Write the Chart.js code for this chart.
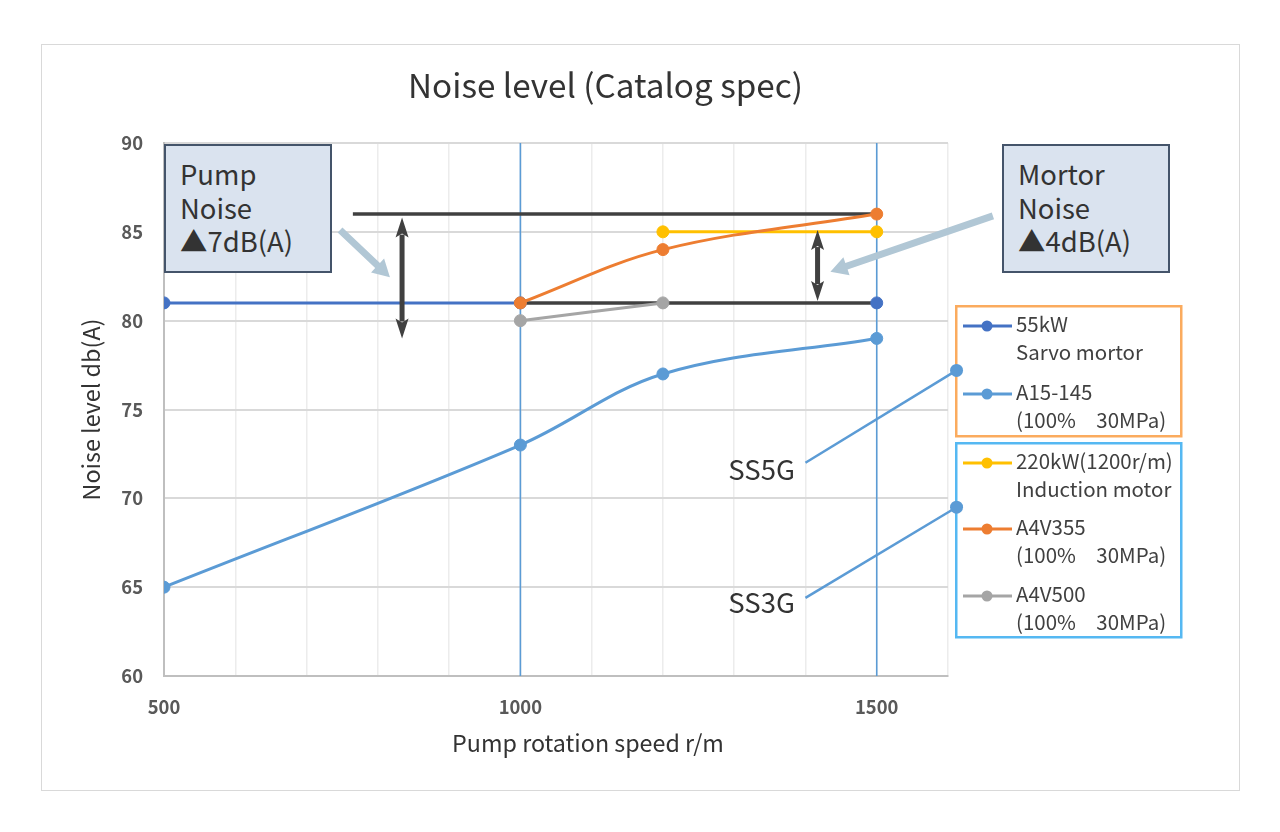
<!DOCTYPE html>
<html lang="en">
<head>
<meta charset="utf-8">
<title>Noise level (Catalog spec)</title>
<script src="https://cdn.jsdelivr.net/npm/chart.js@4.4.1/dist/chart.umd.min.js"></script>
<style>
html,body{margin:0;padding:0;background:#fff;overflow:hidden;}
#wrap{position:relative;width:1280px;height:832px;font-family:"Noto Sans CJK JP","Noto Sans",sans-serif;color:#333;}
#frame{position:absolute;left:41px;top:44px;width:1199px;height:747px;border:1px solid #d9d9d9;box-sizing:border-box;}
#c{position:absolute;left:0;top:0;}
.t{position:absolute;white-space:pre;color:#333;}
.box{position:absolute;box-sizing:border-box;background:#dae3ef;border:2px solid #44546a;width:168px;height:129px;top:144px;}
.lg{color:#404040;}
</style>
</head>
<body>
<div id="wrap">
  <div id="frame"></div>
  <canvas id="c" width="1280" height="832"></canvas>
  <div id="texts"></div>
</div>
<script>
// ---------------- data ----------------
const servoX   = [500, 1000, 1500];
const servoY   = [81, 81, 81];
const a15X     = [500, 1000, 1200, 1500];
const a15Y     = [65, 73, 77, 79];
const inductX  = [1200, 1500];
const inductY  = [85, 85];
const a4v355X  = [1000, 1200, 1500];
const a4v355Y  = [81, 84, 86];
const a4v500X  = [1000, 1200];
const a4v500Y  = [80, 81];

const xTickLabels = [500, 1000, 1500];
const yTickValues = [60, 65, 70, 75, 80, 85, 90];

const seriesLabels = [
  ['55kW', 'Sarvo mortor'],
  ['A15-145', '(100%\u300030MPa)'],
  ['220kW(1200r/m)', 'Induction motor'],
  ['A4V355', '(100%\u300030MPa)'],
  ['A4V500', '(100%\u300030MPa)']
];
const chartTitle  = 'Noise level (Catalog spec)';
const xTitle      = 'Pump rotation speed r/m';
const yTitle      = 'Noise level db(A)';
const pumpNoiseText  = ['Pump', 'Noise', '\u25B27dB(A)'];
const motorNoiseText = ['Mortor', 'Noise', '\u25B24dB(A)'];
const calloutLabels  = ['SS5G', 'SS3G'];

// annotation values (data units)
const refSpeeds   = [1000, 1500];
const topRefLine  = {x0: 765, x1: 1500, y: 86};
const pumpGap     = {x: 834, top: 85.8, bottom: 79.0};
const motorGap    = {x: 1417, top: 85.1, bottom: 81.1};
const pumpPointer = {x0: 747, y0: 85.1, x1: 817, y1: 82.45};
const motorPointer= {x0: 1663, y0: 85.9, x1: 1435, y1: 82.75};
const ss5Callout  = {x0: 1400, y0: 72.0, x1: 1612, y1: 77.2};
const ss3Callout  = {x0: 1400, y0: 64.4, x1: 1612, y1: 69.5};

// ---------------- styles ----------------
const FONT = '"Noto Sans CJK JP", "Noto Sans", sans-serif';
const colors = ['#4472c4', '#5b9bd5', '#ffc000', '#ed7d31', '#a5a5a5'];
const DARK = '#404040';

const mctx = document.createElement('canvas').getContext('2d');
function fitSize(text, target, weight) {
  mctx.font = (weight || 'normal') + ' 100px ' + FONT;
  return 100 * target / mctx.measureText(text).width;
}

function pts(xs, ys) { return xs.map((x, i) => ({x: x, y: ys[i]})); }

function mkDs(i, xs, ys, order, extra) {
  return Object.assign({
    label: seriesLabels[i].join(' '),
    data: pts(xs, ys),
    borderColor: colors[i],
    backgroundColor: colors[i],
    pointBackgroundColor: colors[i],
    pointBorderColor: colors[i],
    pointRadius: 6,
    pointBorderWidth: 1,
    borderWidth: 3,
    tension: 0.35,
    fill: false,
    order: order
  }, extra || {});
}

const datasets = [
  mkDs(3, a4v355X, a4v355Y, 0),
  mkDs(4, a4v500X, a4v500Y, 1),
  mkDs(2, inductX, inductY, 2),
  mkDs(0, servoX, servoY, 3, {
    segment: {
      borderColor: c => c.p0.parsed.x >= 1000 ? DARK : undefined,
      borderWidth: c => c.p0.parsed.x >= 1000 ? 3.5 : undefined
    }
  }),
  mkDs(1, a15X, a15Y, 4)
];

// legend layout (pixels)
const legendBoxes = [
  {x: 956.25, y: 306.25, w: 225, h: 130, color: '#fbab5e'},
  {x: 956.25, y: 443.25, w: 225, h: 194, color: '#55b8f2'}
];
const legendRowY = [325, 393, 462, 528, 595];
const legendLineGap = 28;

// ---------------- drawing helpers ----------------
function doubleArrow(ctx, px, pTop, pBot) {
  const hw = 6.5, hl = 20, sw = 5;
  ctx.fillStyle = DARK;
  ctx.fillRect(px - sw / 2, pTop + hl - 3, sw, (pBot - pTop) - 2 * hl + 6);
  ctx.beginPath();
  ctx.moveTo(px, pTop); ctx.lineTo(px + hw, pTop + hl); ctx.lineTo(px, pTop + hl - 4); ctx.lineTo(px - hw, pTop + hl);
  ctx.closePath(); ctx.fill();
  ctx.beginPath();
  ctx.moveTo(px, pBot); ctx.lineTo(px + hw, pBot - hl); ctx.lineTo(px, pBot - hl + 4); ctx.lineTo(px - hw, pBot - hl);
  ctx.closePath(); ctx.fill();
}

function blockArrow(ctx, x0, y0, x1, y1) {
  const dx = x1 - x0, dy = y1 - y0, L = Math.hypot(dx, dy);
  const ux = dx / L, uy = dy / L, nx = -uy, ny = ux;
  const sw = 7, hw = 9.5, hl = 17;
  const bx = x1 - ux * hl, by = y1 - uy * hl;
  ctx.fillStyle = '#b1c7d5';
  ctx.beginPath();
  ctx.moveTo(x0 + nx * sw / 2, y0 + ny * sw / 2);
  ctx.lineTo(bx + nx * sw / 2, by + ny * sw / 2);
  ctx.lineTo(bx + nx * hw, by + ny * hw);
  ctx.lineTo(x1, y1);
  ctx.lineTo(bx - nx * hw, by - ny * hw);
  ctx.lineTo(bx - nx * sw / 2, by - ny * sw / 2);
  ctx.lineTo(x0 - nx * sw / 2, y0 - ny * sw / 2);
  ctx.closePath(); ctx.fill();
}

const annotations = {
  id: 'annotations',
  beforeDatasetsDraw(chart) {
    const {ctx, chartArea: a, scales: {x, y}} = chart;
    ctx.save();
    ctx.strokeStyle = '#5b9bd5';
    ctx.lineWidth = 1.6;
    refSpeeds.forEach(v => {
      const px = x.getPixelForValue(v);
      ctx.beginPath(); ctx.moveTo(px, a.top); ctx.lineTo(px, a.bottom); ctx.stroke();
    });
    ctx.strokeStyle = DARK;
    ctx.lineWidth = 3.5;
    ctx.beginPath();
    ctx.moveTo(x.getPixelForValue(topRefLine.x0), y.getPixelForValue(topRefLine.y));
    ctx.lineTo(x.getPixelForValue(topRefLine.x1), y.getPixelForValue(topRefLine.y));
    ctx.stroke();
    ctx.restore();
  },
  afterDatasetsDraw(chart) {
    const {ctx, scales: {x, y}} = chart;
    ctx.save();
    [pumpGap, motorGap].forEach(g => doubleArrow(ctx, x.getPixelForValue(g.x), y.getPixelForValue(g.top), y.getPixelForValue(g.bottom)));
    [pumpPointer, motorPointer].forEach(p => blockArrow(ctx, x.getPixelForValue(p.x0), y.getPixelForValue(p.y0), x.getPixelForValue(p.x1), y.getPixelForValue(p.y1)));
    ctx.restore();
  },
  afterDraw(chart) {
    const {ctx, scales: {x, y}} = chart;
    ctx.save();
    ctx.lineWidth = 2.5;
    legendBoxes.forEach(b => { ctx.strokeStyle = b.color; ctx.strokeRect(b.x, b.y, b.w, b.h); });
    legendRowY.forEach((yy, i) => {
      ctx.strokeStyle = colors[i]; ctx.lineWidth = 3;
      ctx.beginPath(); ctx.moveTo(963, yy + 1); ctx.lineTo(1012, yy + 1); ctx.stroke();
      ctx.fillStyle = colors[i];
      ctx.beginPath(); ctx.arc(987, yy + 1, 5.5, 0, Math.PI * 2); ctx.fill();
    });
    [ss5Callout, ss3Callout].forEach(c => {
      const x0 = x.getPixelForValue(c.x0), y0 = y.getPixelForValue(c.y0);
      const x1 = x.getPixelForValue(c.x1), y1 = y.getPixelForValue(c.y1);
      ctx.strokeStyle = '#5b9bd5'; ctx.lineWidth = 2.5;
      ctx.beginPath(); ctx.moveTo(x0, y0); ctx.lineTo(x1, y1); ctx.stroke();
      ctx.fillStyle = '#5b9bd5';
      ctx.beginPath(); ctx.arc(x1, y1, 6.5, 0, Math.PI * 2); ctx.fill();
    });
    ctx.restore();
  }
};

// ---------------- chart ----------------
const tickSize = fitSize('1000', 43.5, 'bold');
const yTitleSize = fitSize(yTitle, 182, 'normal');
const tickFont = {family: FONT, size: tickSize, weight: 'bold'};

new Chart(document.getElementById('c'), {
  type: 'line',
  data: {datasets: datasets},
  options: {
    responsive: false,
    animation: false,
    layout: {padding: {left: 91 - yTitleSize * 0.6, right: 332, top: 143, bottom: 72}},
    plugins: {legend: {display: false}, tooltip: {enabled: false}, title: {display: false}},
    scales: {
      x: {
        type: 'linear', min: 500, max: 1600,
        ticks: {
          stepSize: 100, autoSkip: false, maxRotation: 0,
          padding: 706.5 - 676 - tickSize * 0.6,
          font: tickFont, color: '#595959',
          callback: v => xTickLabels.includes(v) ? String(v) : ''
        },
        grid: {color: '#ececec', lineWidth: 1.5, drawTicks: false},
        border: {color: '#bfbfbf', width: 2},
        title: {display: false},
        afterFit: s => { s.height = 832 - 72 - 676; }
      },
      y: {
        type: 'linear', min: yTickValues[0], max: yTickValues[yTickValues.length - 1],
        afterBuildTicks: s => { s.ticks = yTickValues.map(v => ({value: v})); },
        ticks: {padding: 21, font: tickFont, color: '#595959'},
        grid: {color: '#d9d9d9', lineWidth: 2, drawTicks: false},
        border: {color: '#bfbfbf', width: 2},
        title: {display: true, text: yTitle, color: '#333', padding: 0, font: {family: FONT, size: yTitleSize}},
        afterFit: s => { s.width = 164 - (91 - yTitleSize * 0.6); }
      }
    }
  },
  plugins: [annotations]
});

// ---------------- HTML texts ----------------
const holder = document.getElementById('texts');
// place a single line so that its capital letters are centred on capY
function addText(text, left, capY, size, opts) {
  opts = opts || {};
  const lh = Math.round(size * 1.2);
  const d = document.createElement('div');
  d.className = 't' + (opts.cls ? ' ' + opts.cls : '');
  d.style.fontSize = size + 'px';
  d.style.lineHeight = lh + 'px';
  d.style.top = (capY - lh / 2 - 0.0695 * size) + 'px';
  if (opts.center) {
    d.style.left = (left - 1000) + 'px';
    d.style.width = '2000px';
    d.style.textAlign = 'center';
  } else {
    d.style.left = left + 'px';
  }
  d.textContent = text;
  holder.appendChild(d);
  return d;
}

addText(chartTitle, 605.5, 86.7, fitSize(chartTitle, 395), {center: true});
addText(xTitle, 588, 744, fitSize(xTitle, 272), {center: true});

// annotation boxes
[{left: 164, lines: pumpNoiseText}, {left: 1002, lines: motorNoiseText}].forEach(b => {
  const box = document.createElement('div');
  box.className = 'box';
  box.style.left = b.left + 'px';
  holder.appendChild(box);
  const size = fitSize(b.lines[2], 113);
  b.lines.forEach((txt, j) => addText(txt, b.left + 16, 175.8 + j * 33.5, size));
});

// SS labels
const ssSize = fitSize('SS5G', 66.7);
addText(calloutLabels[0], 728.3, 470, ssSize);
addText(calloutLabels[1], 728.3, 603, ssSize);

// legend texts
const lgSize = fitSize(seriesLabels[0][1], 127);
seriesLabels.forEach((lines, i) => {
  lines.forEach((txt, j) => addText(txt, 1016, legendRowY[i] + j * legendLineGap, lgSize, {cls: 'lg'}));
});
</script>
</body>
</html>
